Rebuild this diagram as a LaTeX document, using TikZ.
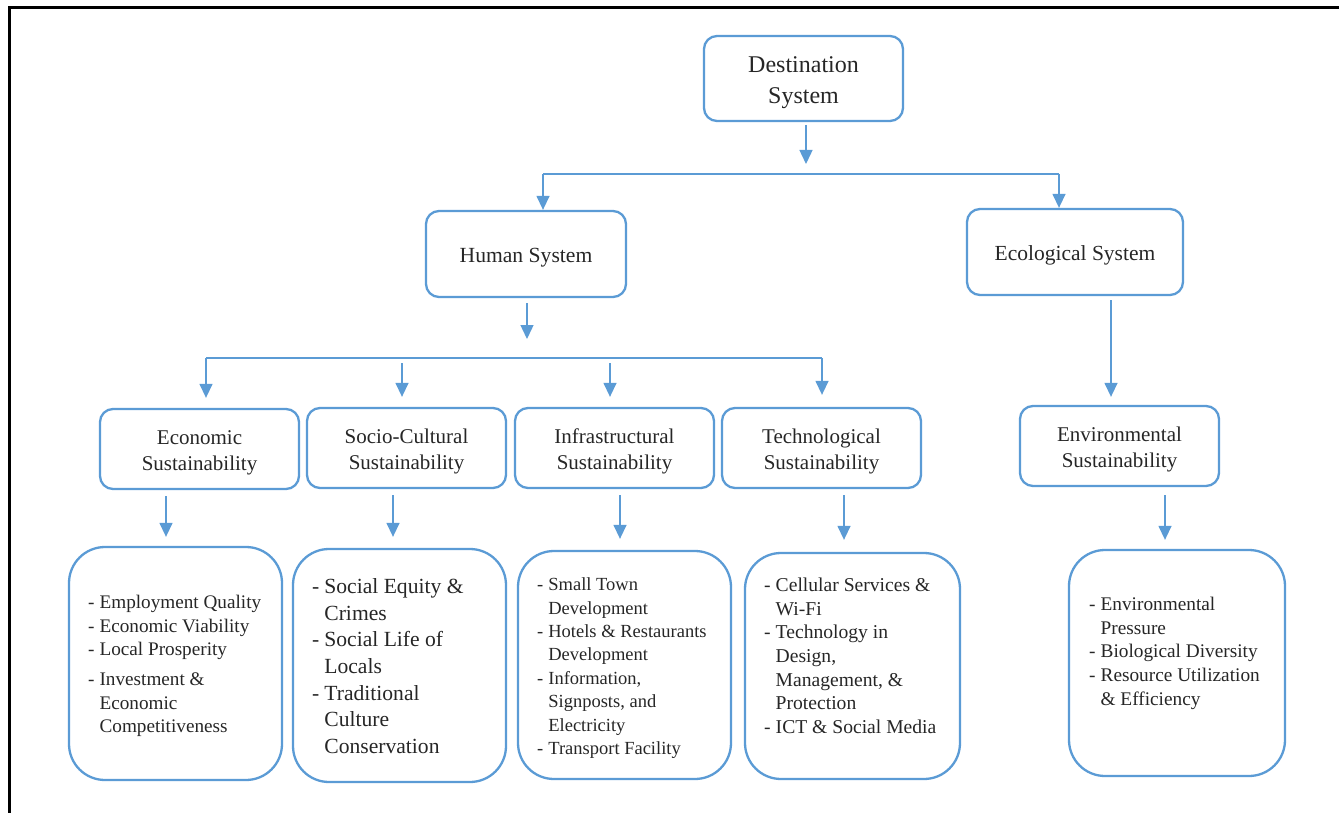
\documentclass[tikz,border=0pt]{standalone}
\usepackage{fontspec}
\setmainfont{Liberation Serif}
\usetikzlibrary{arrows.meta}
\definecolor{bl}{HTML}{5B9BD5}
\newcommand{\fs}[2]{\fontsize{#1}{#2}\selectfont}
\newcommand{\lbl}[1]{\raisebox{-3pt}[\height][\depth]{\begin{tabular}{@{}c@{}}#1\end{tabular}}}
\tikzset{
  sbox/.style={draw=bl, line width=2.3pt, rounded corners=13pt, inner sep=0pt, text=black!85},
  lbox/.style={draw=bl, line width=2.3pt, rounded corners=36pt, inner sep=0pt},
  ltext/.style={anchor=base west, inner sep=0pt, text=black!85},
  conn/.style={draw=bl, line width=1.4pt},
  arr/.style={conn, -{Triangle[width=13pt,length=14pt]}},
}
\begin{document}
\begin{tikzpicture}[x=1pt,y=-1pt]
\useasboundingbox (0,0) rectangle (1339,813);
% frame
\draw[line width=3pt] (9,813) -- (9,8) -- (1339,8);

% top levels
\node[sbox, minimum width=199pt, minimum height=85pt, font=\fs{24}{31}] (dest) at (803.5,78.5) {\lbl{Destination\\System}};
\node[sbox, minimum width=200pt, minimum height=86pt, font=\fs{21.6}{26}] (human) at (526,254) {\lbl{Human System}};
\node[sbox, minimum width=216pt, minimum height=86pt, font=\fs{21.5}{26}] (eco) at (1075,252) {\lbl{Ecological System}};

% sustainability boxes
\node[sbox, minimum width=199pt, minimum height=80pt, font=\fs{21}{26.5}] (econ) at (199.5,449) {\lbl{Economic\\Sustainability}};
\node[sbox, minimum width=199pt, minimum height=80pt, font=\fs{21}{26.5}] (soc) at (406.5,448) {\lbl{Socio-Cultural\\Sustainability}};
\node[sbox, minimum width=199pt, minimum height=80pt, font=\fs{21}{26.5}] (inf) at (614.5,448) {\lbl{Infrastructural\\Sustainability}};
\node[sbox, minimum width=199pt, minimum height=80pt, font=\fs{21}{26.5}] (tech) at (821.5,448) {\lbl{Technological\\Sustainability}};
\node[sbox, minimum width=199pt, minimum height=80pt, font=\fs{21}{26}] (env) at (1119.5,446) {\lbl{Environmental\\Sustainability}};

% list boxes
\node[lbox, minimum width=213pt, minimum height=233pt] (lecon) at (175.5,663.5) {};
\node[lbox, minimum width=213pt, minimum height=233pt] (lsoc) at (399.5,665.5) {};
\node[lbox, minimum width=213pt, minimum height=228pt] (linf) at (624.5,665) {};
\node[lbox, minimum width=215pt, minimum height=226pt] (ltech) at (852.5,666) {};
\node[lbox, minimum width=216pt, minimum height=226pt] (lenv) at (1177,663) {};

% list texts
\node[ltext, font=\fs{19.2}{23.5}] (tecon) at (88,608.5) {\begin{tabular}[t]{@{}l@{\hspace{5pt}}l@{}}
-&Employment Quality\\
-&Economic Viability\\
-&Local Prosperity\\[6.5pt]
-&Investment \&\\
&Economic\\
&Competitiveness
\end{tabular}};
\node[ltext, font=\fs{21.6}{26.7}] (tsoc) at (312,593.3) {\begin{tabular}[t]{@{}l@{\hspace{5pt}}l@{}}
-&Social Equity \&\\
&Crimes\\
-&Social Life of\\
&Locals\\
-&Traditional\\
&Culture\\
&Conservation
\end{tabular}};
\node[ltext, font=\fs{18.5}{23.4}] (tinf) at (537,590.7) {\begin{tabular}[t]{@{}l@{\hspace{5pt}}l@{}}
-&Small Town\\
&Development\\
-&Hotels \& Restaurants\\
&Development\\
-&Information,\\
&Signposts, and\\
&Electricity\\
-&Transport Facility
\end{tabular}};
\node[ltext, font=\fs{19.6}{23.6}] (ttech) at (764,591.7) {\begin{tabular}[t]{@{}l@{\hspace{5pt}}l@{}}
-&Cellular Services \&\\
&Wi-Fi\\
-&Technology in\\
&Design,\\
&Management, \&\\
&Protection\\
-&ICT \& Social Media
\end{tabular}};
\node[ltext, font=\fs{19.3}{23.6}] (tenv) at (1089,610.7) {\begin{tabular}[t]{@{}l@{\hspace{5pt}}l@{}}
-&Environmental\\
&Pressure\\
-&Biological Diversity\\
-&Resource Utilization\\
&\& Efficiency
\end{tabular}};

% connector coordinates
\coordinate (d0) at (806,125);
\coordinate (d1) at (806,164);
\coordinate (b1l) at (543,174);
\coordinate (b1r) at (1059,174);
\coordinate (h0) at (527,303);
\coordinate (h1) at (527,339);
\coordinate (b2l) at (206,358);
\coordinate (b2r) at (822,358);
\coordinate (s2) at (402,363);
\coordinate (s3) at (610,363);
\coordinate (e0) at (1111,300);

% connectors
\draw[arr] (d0) -- (d1);
\draw[conn] (b1l) -- (b1r);
\draw[arr] (b1l) -- (b1l |- human.north);
\draw[arr] (b1r) -- (b1r |- eco.north);
\draw[arr] (h0) -- (h1);
\draw[conn] (b2l) -- (b2r);
\draw[arr] (b2l) -- ([yshift=10pt]b2l |- econ.north);
\draw[arr] (s2) -- ([yshift=10pt]s2 |- soc.north);
\draw[arr] (s3) -- ([yshift=10pt]s3 |- inf.north);
\draw[arr] (b2r) -- ([yshift=12pt]b2r |- tech.north);
\draw[arr] (e0) -- ([yshift=8pt]e0 |- env.north);
\draw[arr] ([xshift=-33.5pt,yshift=-6pt]econ.south) -- ([xshift=-9.5pt,yshift=9pt]lecon.north);
\draw[arr] ([xshift=-13.5pt,yshift=-6pt]soc.south) -- ([xshift=-6.5pt,yshift=11pt]lsoc.north);
\draw[arr] ([xshift=5.5pt,yshift=-6pt]inf.south) -- ([xshift=-4.5pt,yshift=11pt]linf.north);
\draw[arr] ([xshift=22.5pt,yshift=-6pt]tech.south) -- ([xshift=-8.5pt,yshift=12pt]ltech.north);
\draw[arr] ([xshift=45.5pt,yshift=-8pt]env.south) -- ([xshift=-12pt,yshift=9pt]lenv.north);
\end{tikzpicture}
\end{document}
